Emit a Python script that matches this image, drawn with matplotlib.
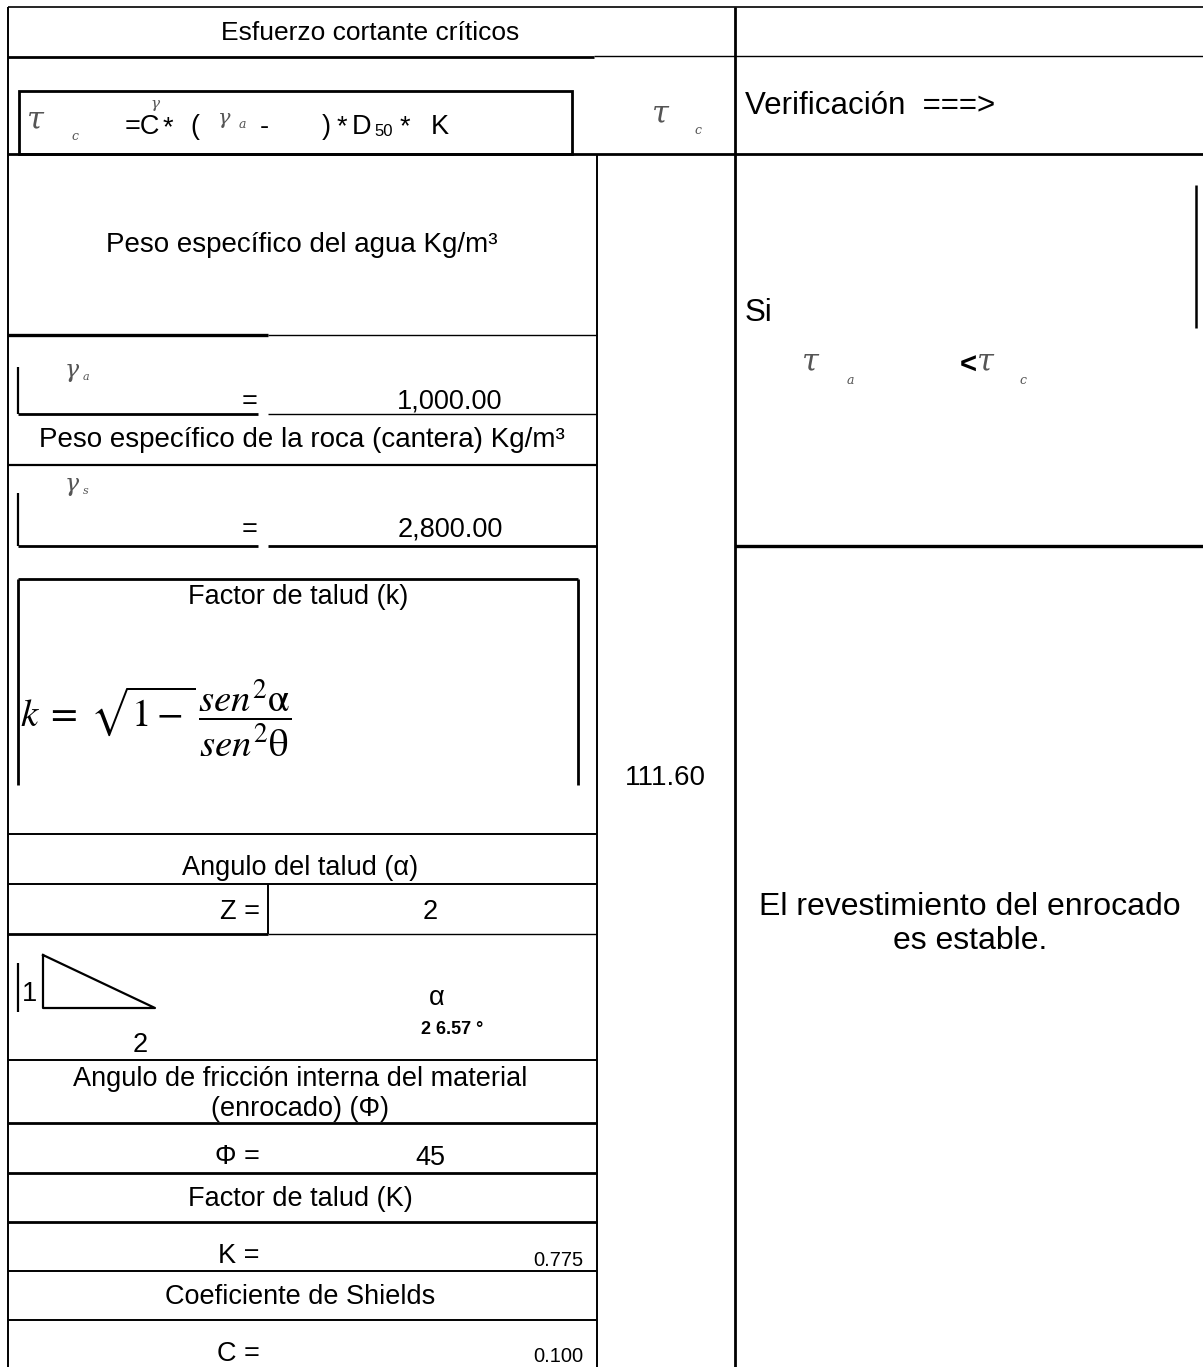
import matplotlib
matplotlib.use('Agg')
import matplotlib.pyplot as plt

plt.rcParams['font.family'] = ['Liberation Sans', 'DejaVu Sans']
plt.rcParams['mathtext.fontset'] = 'stix'

# table contents
title = 'Esfuerzo cortante críticos'
check_label = 'Verificación  ===>'
row_titles = ['Peso específico del agua Kg/m³',
              'Peso específico de la roca (cantera) Kg/m³',
              'Factor de talud (k)',
              'Angulo del talud (α)',
              'Angulo de fricción interna del material\n(enrocado) (Φ)',
              'Factor de talud (K)',
              'Coeficiente de Shields']
peso_agua = 1000.00
peso_roca = 2800.00
z_talud = 2
alpha_deg = 26.57
phi_deg = 45
k_factor = 0.775
c_shields = 0.100
tau_c = 111.60
result = 'El revestimiento del enrocado\nes estable.'

FS = 19.5
GREY = '#555555'
SYM = dict(family='DejaVu Serif', style='italic', color=GREY)

fig = plt.figure(figsize=(12.03, 13.67), dpi=100)
ax = fig.add_axes([0, 0, 1, 1])
ax.set_xlim(0, 1203)
ax.set_ylim(1367, 0)
ax.axis('off')


def hline(x0, x1, y, lw=1.4):
    ax.plot([x0, x1], [y, y], color='black', lw=lw, solid_capstyle='butt')


def vline(x, y0, y1, lw=1.4):
    ax.plot([x, x], [y0, y1], color='black', lw=lw, solid_capstyle='butt')


def txt(x, y, s, size=FS, ha='center', **kw):
    ax.text(x, y, s, fontsize=size, ha=ha, va='center', **kw)


# outer frame / columns
hline(8, 1203, 7, 1.2)
vline(8, 7, 1367, 1.4)
vline(735, 7, 1367, 2.0)
vline(597, 154, 1367, 1.4)
hline(8, 594, 57, 2.0)
hline(594, 1203, 56, 1.0)
hline(8, 1203, 154, 2.0)
hline(735, 1203, 546, 2.4)
vline(1196, 185, 328, 1.8)

# header
txt(370, 33, title, 19)

# formula box tau_c
ax.add_patch(plt.Rectangle((19, 91), 553, 63, fill=False, lw=2.0, ec='black'))
txt(35, 120, 'τ', 22, **SYM)
txt(75, 137, 'c', 9, **SYM)
txt(125, 127, '=C', ha='left')
txt(155, 104, 'γ', 11, **SYM)
txt(163, 128, '*', ha='left')
txt(190, 127, '(', ha='left')
txt(224, 118, 'γ', 15, **SYM)
txt(242, 124, 'a', 9, **SYM)
txt(260, 127, '-', ha='left')
txt(322, 127, ')', ha='left')
txt(337, 127, '*', ha='left')
txt(352, 127, 'D', ha='left')
txt(374, 131, '50', 12, ha='left')
txt(400, 127, '*', ha='left')
txt(431, 127, 'K', ha='left')

# tau_c symbol column 2
txt(660, 114, 'τ', 22, **SYM)
txt(698, 131, 'c', 9, **SYM)

# right column
txt(745, 106, check_label, 22.5, ha='left')
txt(745, 313, 'Si', 22.5, ha='left')
txt(810, 362, 'τ', 22, **SYM)
txt(850, 380, 'a', 9, **SYM)
txt(968, 366, '<', 21, fontweight='bold')
txt(985, 362, 'τ', 22, **SYM)
txt(1023, 380, 'c', 9, **SYM)
txt(970, 924, result, 23, linespacing=1.15)

# peso especifico del agua
txt(302, 245, row_titles[0], 20)
hline(8, 268, 335, 2.4)
hline(268, 597, 335, 1.0)
txt(72, 370, 'γ', 17, **SYM)
txt(86, 377, 'a', 8, **SYM)
vline(18, 367, 414, 1.6)
txt(250, 402, '=')
txt(450, 401, f'{peso_agua:,.2f}')
hline(18, 258, 414, 2.0)
hline(268, 597, 414, 1.0)

# peso especifico de la roca
txt(302, 440, row_titles[1], 20)
hline(8, 597, 465, 1.6)
txt(72, 484, 'γ', 17, **SYM)
txt(86, 491, 's', 8, **SYM)
vline(18, 493, 546, 1.6)
txt(250, 530, '=')
txt(450, 529, f'{peso_roca:,.2f}')
hline(18, 258, 546, 2.0)
hline(268, 597, 546, 2.0)

# factor de talud (k) box
hline(18, 578, 579, 2.0)
vline(578, 579, 785, 2.0)
vline(18, 579, 785, 2.0)
txt(298, 597, row_titles[2])
txt(20, 718, r'$k\;=\;\sqrt{1-}\,\dfrac{sen^2\mathrm{\alpha}}{sen^2\mathrm{\theta}}$',
    28, ha='left')

txt(665, 778, f'{tau_c:.2f}', 20)

# angulo del talud
hline(8, 597, 834, 1.4)
txt(300, 868, row_titles[3])
hline(8, 597, 884, 1.4)
txt(260, 912, 'Z =', ha='right')
vline(268, 884, 934, 1.4)
txt(430, 912, f'{z_talud}')
hline(8, 268, 934, 2.0)
hline(268, 597, 934, 1.0)

# slope triangle 1:Z
run = 56 * z_talud
ax.plot([43, 43, 43 + run, 43], [955, 1008, 1008, 955], color='black', lw=1.6)
vline(18, 963, 1012, 1.6)
txt(22, 994, '1', ha='left')
txt(140, 1045, f'{z_talud}')
txt(437, 998, 'α')
txt(452, 1030, f'{int(alpha_deg // 10)} {alpha_deg % 10:.2f} °', 13,
    fontweight='bold')

# friccion interna
hline(8, 597, 1060, 1.4)
txt(300, 1094, row_titles[4], linespacing=1.15)
hline(8, 597, 1123, 2.0)
txt(260, 1157, 'Φ =', ha='right')
txt(430, 1158, f'{phi_deg}')
hline(8, 597, 1173, 2.0)

# factor de talud K
txt(300, 1199, row_titles[5])
hline(8, 597, 1222, 2.0)
txt(260, 1256, 'K =', ha='right')
txt(583, 1260, f'{k_factor:.3f}', 14.5, ha='right')
hline(8, 597, 1271, 1.4)

# coeficiente de shields
txt(300, 1297, row_titles[6])
hline(8, 597, 1320, 1.4)
txt(260, 1354, 'C =', ha='right')
txt(583, 1357, f'{c_shields:.3f}', 14.5, ha='right')

fig.savefig('out.png', dpi=100)
